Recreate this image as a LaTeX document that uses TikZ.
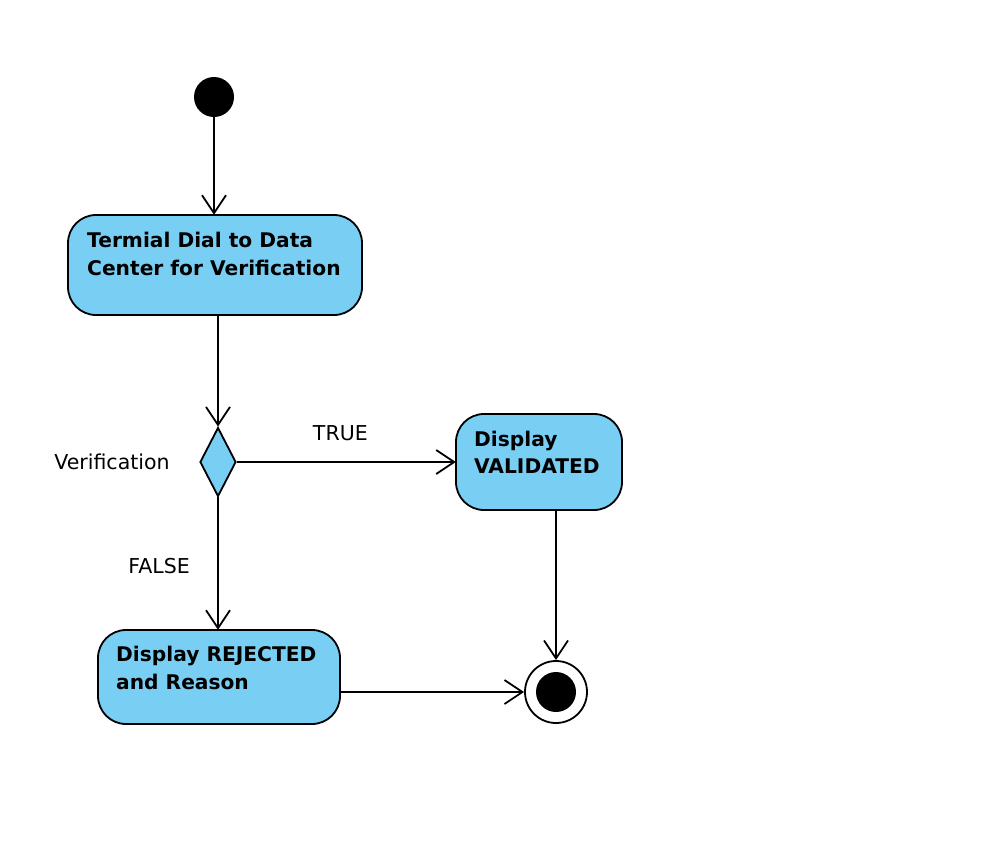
\documentclass[tikz,border=0pt]{standalone}
\usepackage{fontspec}
\setmainfont{DejaVu Sans}
\usetikzlibrary{arrows.meta,shapes.geometric}
\definecolor{actfill}{HTML}{79CEF4}
\begin{document}
\begin{tikzpicture}[x=1pt,y=-1pt,
  act/.style={draw=black,line width=1.8pt,fill=actfill,rounded corners=28pt,inner sep=0pt},
  acttext/.style={anchor=base west,inner sep=0pt,font=\fontsize{20.2}{27}\selectfont\bfseries,align=left},
  lbl/.style={font=\fontsize{20.5}{22}\selectfont},
  flow/.style={line width=1.8pt,-{Straight Barb[length=18pt,width=24pt,line width=1.8pt]}}]
\useasboundingbox (0,0) rectangle (988,844);
% initial
\node[circle,fill=black,minimum size=40pt,inner sep=0pt] (init) at (214,97) {};
% activities
\draw[act] (68,215) rectangle (362,315);
\node[rectangle,minimum width=294pt,minimum height=100pt,inner sep=0pt] (a1) at (215,265) {};
\node[acttext] (t1) at (87,247) {Termial Dial to Data};
\node[acttext] (t1b) at (87,275) {Center for Verification};
\draw[act] (456,414) rectangle (622,510);
\node[rectangle,minimum width=166pt,minimum height=96pt,inner sep=0pt] (a2) at (539,462) {};
\node[acttext] (t2) at (474,446) {Display};
\node[acttext] (t2b) at (474,473) {VALIDATED};
\draw[act] (98,630) rectangle (340,724);
\node[rectangle,minimum width=242pt,minimum height=94pt,inner sep=0pt] (a3) at (219,677) {};
\node[acttext] (t3) at (116,661) {Display REJECTED};
\node[acttext] (t3b) at (116,689) {and Reason};
% decision
\node[diamond,draw=black,line width=1.8pt,fill=actfill,minimum width=36pt,minimum height=69pt,inner sep=0pt] (dec) at (218,462) {};
\node[lbl,inner sep=0pt] (vl) at (112,462) {Verification};
% final
\node[circle,draw=black,line width=1.8pt,minimum size=62pt,inner sep=0pt] (fin) at (556,692) {};
\node[circle,fill=black,minimum size=40pt,inner sep=0pt] (fincore) at (556,692) {};
% flows
\draw[flow] (init.south) -- (init.south |- a1.north);
\draw[flow] (a1.south -| dec.north) -- (dec.north);
\draw[flow] (dec.east) -- node[lbl,above=17pt,xshift=-6pt] (tl) {TRUE} (a2.west);
\draw[flow] (dec.south) -- node[lbl,left=24pt,pos=0.52] (fl) {FALSE} (a3.north -| dec.south);
\draw[flow] (a3.east |- fin.west) -- (fin.west);
\draw[flow] (a2.south -| fin.north) -- (fin.north);
\end{tikzpicture}
\end{document}
